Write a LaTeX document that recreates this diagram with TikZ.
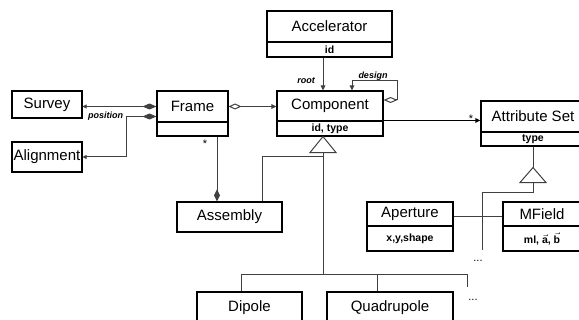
\documentclass[tikz,border=0pt]{standalone}
\usepackage{fontspec}
\setmainfont{Liberation Sans}
\usetikzlibrary{arrows.meta,calc}
\begin{document}
\begin{tikzpicture}[x=1pt,y=-1pt,
  cls/.style={draw=black, line width=1.1pt, inner sep=0pt, font=\fontsize{15}{17}\selectfont},
  attrbox/.style={draw=black, line width=1.1pt, inner sep=0pt, font=\bfseries\fontsize{10.5}{12}\selectfont},
  lbl/.style={inner sep=0pt, font=\bfseries\itshape\fontsize{9}{10}\selectfont},
  conn/.style={draw=black!75, line width=1pt},
  tip/.style={-{Triangle[length=5pt,width=4.5pt]}},
  dots/.style={inner sep=0pt, font=\fontsize{11}{12}\selectfont}]
\useasboundingbox (0,0) rectangle (579,320);
% classes
\node[cls, minimum width=125, minimum height=31] (acc) at (329.5,26.5) {Accelerator};
\node[attrbox, minimum width=125, minimum height=15] (acca) at (329.5,49.5) {id};
\node[cls, minimum width=106, minimum height=30] (comp) at (330,106) {Component};
\node[attrbox, minimum width=106, minimum height=15] (compa) at (330,128.5) {id, type};
\node[cls, minimum width=71, minimum height=31] (frame) at (192.5,106.5) {Frame};
\node[attrbox, minimum width=71, minimum height=14] (framea) at (192.5,129) {};
\node[cls, minimum width=70, minimum height=27] (survey) at (47,104.5) {Survey};
\node[cls, minimum width=70, minimum height=30] (align) at (47,157) {Alignment};
\node[cls, minimum width=105, minimum height=30] (asm) at (229.5,217) {Assembly};
\node[cls, minimum width=105, minimum height=32] (dip) at (249.5,308) {Dipole};
\node[cls, minimum width=126, minimum height=32] (quad) at (390,308) {Quadrupole};
\node[cls, minimum width=104, minimum height=31] (attrset) at (533,116.5) {Attribute Set};
\node[attrbox, minimum width=104, minimum height=14] (attrseta) at (533,139) {type};
\node[cls, minimum width=86, minimum height=24] (ap) at (410,214) {Aperture};
\node[attrbox, minimum width=86, minimum height=25] (apa) at (410,238.5) {x,y,shape};
\node[cls, minimum width=78, minimum height=24] (mf) at (542,214) {MField};
\node[attrbox, minimum width=78, minimum height=25] (mfa) at (542,238.5) {ml, $\vec{\mbox{a}}$, $\vec{\mbox{b}}$};
% thick dividers
\draw[line width=1.8pt] (framea.north west) -- (framea.north east);
\draw[line width=1.8pt] (compa.north west) -- (compa.north east);
% Accelerator -> Component
\draw[conn, tip] ([xshift=-6.5pt]acca.south) -- ([xshift=-7pt]comp.north);
\node[lbl] (root) at (306,81) {root};
% design self loop
\draw[conn, {Diamond[open,length=14pt,width=6pt]}-{Triangle[length=5pt,width=4.5pt]}]
  ([yshift=6pt]comp.east) -- ++(14,0) -- ++(0,-19) -| ([xshift=22pt]comp.north);
\node[lbl] (design) at (373,76) {design};
% Frame -> Component
\draw[conn, {Diamond[open,length=13pt,width=6pt]}-{Triangle[length=5pt,width=4.5pt]}]
  (frame.east) -- (frame.east -| comp.west);
% Frame -> Survey
\draw[conn, {Diamond[length=14pt,width=6pt]}-{Triangle[length=4pt,width=4pt]}]
  (frame.west) -- (frame.west -| survey.east);
% Frame -> Alignment
\draw[conn, {Diamond[length=14pt,width=6pt]}-{Triangle[length=4pt,width=4pt]}]
  ([yshift=-10pt]frame.west) -- ++(-30,0) |- (align.east);
\node[lbl] (position) at (105.5,116) {position};
% Frame -> Assembly
\draw[conn, -{Diamond[length=12pt,width=6pt]}]
  ([xshift=24.5pt]framea.south) -- ([xshift=-12.5pt]asm.north);
\node[dots] (fstar) at (205,144) {*};
% Component generalization
\draw[conn, fill=white] ([xshift=-7pt]compa.south) -- ++(-13,16) -- ++(26,0) -- cycle;
\coordinate (tb) at ([xshift=-7pt,yshift=-16pt]compa.south);
\coordinate (hub) at (323,275);
\coordinate (j1) at (323,157);
\coordinate (dang) at (467,287);
\draw[conn] (tb) -- (hub);
\draw[conn] ([xshift=-8.5pt]dip.north) |- (hub);
\draw[conn] ([xshift=-13pt]quad.north) |- (hub);
\draw[conn] (dang) |- (hub);
\draw[conn] ([xshift=32.5pt]asm.north) |- (j1);
\node[dots] (dots1) at (473,300) {...};
% Component -> Attribute Set
\draw[line width=1.6pt, -{Triangle[length=5pt,width=4.5pt]}]
  (compa.north east) -- (compa.north east -| attrset.west);
\node[dots] (astar) at (471,119) {*};
% Attribute Set generalization
\draw[conn] (attrseta.south) -- ++(0,21) coordinate (ta);
\draw[conn, fill=white] (ta) -- ++(-13,15) -- ++(26,0) -- cycle;
\coordinate (tb2) at ([yshift=-15pt]ta);
\coordinate (dang2) at (482,250);
\draw[conn] (tb2) -- ++(0,10) -| (dang2);
\draw[conn] ([yshift=-3pt]ap.east) -- ([yshift=-3pt]mf.west);
\node[dots] (dots2) at (478,261) {...};
\end{tikzpicture}
\end{document}
